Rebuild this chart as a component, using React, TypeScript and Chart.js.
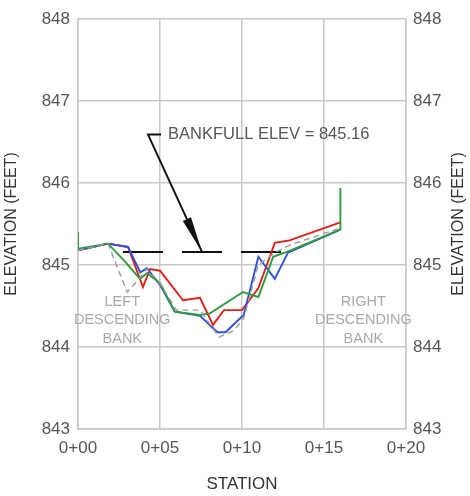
import React, { useEffect, useRef } from "react";
import { Chart, registerables } from "chart.js";
Chart.register(...registerables);

// Survey lines: station and elevation (ft)
const redStations = [0, 1.83, 3.05, 3.96, 4.39, 5.0, 6.4, 7.44, 8.23, 8.9, 10.0, 11.0, 12.0, 12.9, 16.0];
const redElev = [845.18, 845.26, 845.22, 844.73, 844.95, 844.93, 844.57, 844.6, 844.27, 844.45, 844.45, 844.72, 845.27, 845.3, 845.52];

const blueStations = [0, 1.83, 3.05, 3.8, 4.2, 5.0, 5.9, 7.44, 8.5, 9.0, 10.1, 11.0, 12.0, 12.8, 16.0];
const blueElev = [845.18, 845.26, 845.22, 844.91, 844.96, 844.76, 844.43, 844.38, 844.18, 844.18, 844.39, 845.1, 844.83, 845.15, 845.43];

const greenStations = [0, 0, 1.83, 2.87, 3.78, 4.2, 5.0, 5.9, 7.44, 8.05, 10.06, 11.0, 11.9, 12.74, 16.0, 16.0];
const greenElev = [845.4, 845.2, 845.26, 845.04, 844.83, 844.9, 844.78, 844.43, 844.39, 844.41, 844.67, 844.61, 845.1, 845.16, 845.43, 845.94];

const grayStations = [0, 1.83, 3.0, 3.5, 4.2, 5.0, 6.0, 7.44, 8.6, 9.5, 10.1, 11.0, 12.0, 13.0, 16.0];
const grayElev = [845.18, 845.26, 844.67, 844.78, 844.95, 844.78, 844.45, 844.45, 844.12, 844.2, 844.35, 845.0, 845.15, 845.25, 845.45];

const bankfullElev = 845.16;
const bankfullStations = [2.74, 12.5];

const xTicks = [0, 5, 10, 15, 20];
const yTicks = [843, 844, 845, 846, 847, 848];

const labelText = "BANKFULL ELEV = 845.16";
const leftBankLines = ["LEFT", "DESCENDING", "BANK"];
const rightBankLines = ["RIGHT", "DESCENDING", "BANK"];

const pts = (xs: number[], ys: number[]) => xs.map((x, i) => ({ x, y: ys[i] }));
const fmtStation = (v: number) => "0+" + String(v).padStart(2, "0");

const FONT = "'Liberation Sans', Arial, sans-serif";

const overlay = {
  id: "overlay",
  afterDatasetsDraw(chart: any) {
    const { ctx, scales } = chart;
    const xs = scales.x, ys = scales.y;
    const px = (v: number) => xs.getPixelForValue(v);
    const py = (v: number) => ys.getPixelForValue(v);
    ctx.save();
    // arrow
    const sx = px(4.27), sy = py(846.59);
    const tx = px(7.56), ty = py(bankfullElev);
    ctx.strokeStyle = "#111";
    ctx.lineWidth = 2;
    ctx.beginPath();
    ctx.moveTo(sx + 13, sy);
    ctx.lineTo(sx, sy);
    ctx.lineTo(tx, ty);
    ctx.stroke();
    const ang = Math.atan2(ty - sy, tx - sx);
    const L = 36, W = 4.5;
    const bx = tx - L * Math.cos(ang), by = ty - L * Math.sin(ang);
    ctx.fillStyle = "#111";
    ctx.beginPath();
    ctx.moveTo(tx, ty);
    ctx.lineTo(bx - W * Math.sin(ang), by + W * Math.cos(ang));
    ctx.lineTo(bx + W * Math.sin(ang), by - W * Math.cos(ang));
    ctx.closePath();
    ctx.fill();
    // label
    ctx.fillStyle = "#555";
    ctx.font = `16.5px ${FONT}`;
    ctx.textAlign = "left";
    ctx.textBaseline = "middle";
    ctx.fillText(labelText, px(5.49), sy);
    // bank annotations
    ctx.fillStyle = "#a8a8a8";
    ctx.font = `14.5px ${FONT}`;
    ctx.textAlign = "center";
    const baseY = py(844.55);
    leftBankLines.forEach((t, i) => ctx.fillText(t, px(2.7), baseY + i * 18.5));
    rightBankLines.forEach((t, i) => ctx.fillText(t, px(17.4), baseY + i * 18.5));
    // right axis title
    const ca = chart.chartArea;
    ctx.fillStyle = "#333";
    ctx.font = `16px ${FONT}`;
    ctx.translate(chart.width - 11.6, (ca.top + ca.bottom) / 2);
    ctx.rotate(-Math.PI / 2);
    ctx.textAlign = "center";
    ctx.textBaseline = "middle";
    ctx.fillText("ELEVATION (FEET)", 0, 0);
    ctx.restore();
  },
};

export default function App() {
  const ref = useRef<HTMLCanvasElement>(null);
  useEffect(() => {
    document.body.style.margin = "0";
    const ticksFont = { family: FONT, size: 17 };
    const chart = new Chart(ref.current!, {
      type: "line",
      data: {
        datasets: [
          { data: pts(grayStations, grayElev), borderColor: "#9a9a9a", borderWidth: 1.4, borderDash: [6, 4], pointRadius: 0 },
          { data: pts(greenStations, greenElev), borderColor: "#2e9a3c", borderWidth: 1.9, pointRadius: 0 },
          { data: pts(blueStations, blueElev), borderColor: "#3050d8", borderWidth: 1.9, pointRadius: 0 },
          { data: pts(redStations, redElev), borderColor: "#e0201c", borderWidth: 1.9, pointRadius: 0 },
          {
            data: bankfullStations.map((x) => ({ x, y: bankfullElev })),
            borderColor: "#111",
            borderWidth: 2,
            borderDash: [40, 19],
            pointRadius: 0,
          },
        ] as any,
      },
      options: {
        animation: false,
        responsive: false,
        devicePixelRatio: 1,
        parsing: false as any,
        layout: { padding: { top: 19, left: 0, right: 0, bottom: 0 } },
        plugins: { legend: { display: false }, tooltip: { enabled: false } },
        scales: {
          x: {
            type: "linear",
            min: 0,
            max: 20,
            afterBuildTicks: (s: any) => { s.ticks = xTicks.map((v) => ({ value: v })); },
            afterFit: (s: any) => { s.height = 67; },
            grid: { color: "#c8c8c8", lineWidth: 1.5, drawTicks: false },
            border: { color: "#c8c8c8", width: 1.5 },
            ticks: { font: ticksFont, color: "#555", padding: 9, maxRotation: 0, callback: (v: any) => fmtStation(Number(v)) },
            title: { display: true, text: "STATION", font: { family: FONT, size: 17 }, color: "#333", padding: { top: 0, bottom: 1 } },
          },
          y: {
            type: "linear",
            position: "left",
            min: 843,
            max: 848,
            afterBuildTicks: (s: any) => { s.ticks = yTicks.map((v) => ({ value: v })); },
            afterFit: (s: any) => { s.width = 78; },
            grid: { color: "#c8c8c8", lineWidth: 1.5, drawTicks: false },
            border: { color: "#c8c8c8", width: 1.5 },
            ticks: { font: ticksFont, color: "#555", padding: 8 },
            title: { display: true, text: "ELEVATION (FEET)", font: { family: FONT, size: 16 }, color: "#333", padding: { top: 2, bottom: 0 } },
          },
          y2: {
            type: "linear",
            position: "right",
            min: 843,
            max: 848,
            afterBuildTicks: (s: any) => { s.ticks = yTicks.map((v) => ({ value: v })); },
            afterFit: (s: any) => { s.width = 64; },
            grid: { display: false, drawTicks: false },
            border: { color: "#c8c8c8", width: 1.5 },
            ticks: { font: ticksFont, color: "#555", padding: 7 },
          },
        },
      } as any,
      plugins: [overlay],
    });
    return () => chart.destroy();
  }, []);
  return <canvas ref={ref} width={470} height={496} style={{ display: "block" }} />;
}
